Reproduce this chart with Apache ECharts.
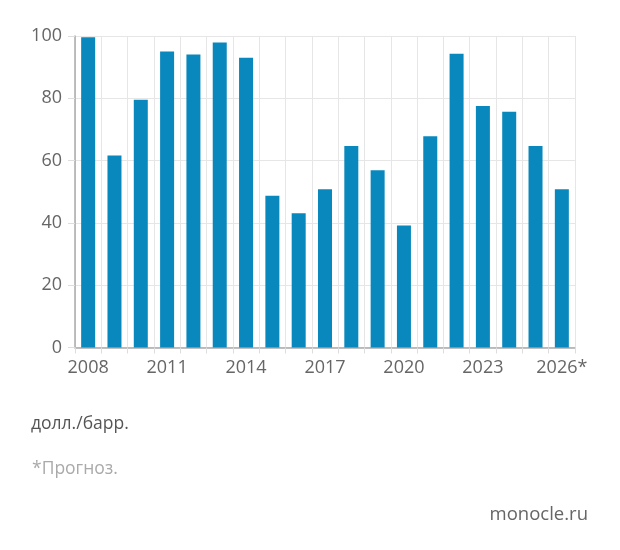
<!DOCTYPE html>
<html>
<head>
<meta charset="utf-8">
<script src="https://cdn.jsdelivr.net/npm/echarts@6/dist/echarts.min.js"></script>
<style>html,body{margin:0;padding:0;background:#fff;}#c{width:620px;height:550px;}</style>
</head>
<body>
<div id="c"></div>
<script>
const years = ['2008','2009','2010','2011','2012','2013','2014','2015','2016','2017','2018','2019','2020','2021','2022','2023','2024','2025','2026*'];
const prices = [99.6, 61.6, 79.5, 95.0, 94.1, 97.9, 93.0, 48.7, 43.1, 50.8, 64.7, 56.9, 39.2, 67.8, 94.3, 77.5, 75.7, 64.7, 50.8];
const yTicks = [0, 20, 40, 60, 80, 100];
const unitText = 'долл./барр.';
const noteText = '*Прогноз.';
const sourceText = 'monocle.ru';

const font = 'Open Sans';
const chart = echarts.init(document.getElementById('c'));
chart.setOption({
  animation: false,
  backgroundColor: '#fff',
  grid: { left: 75, right: 45, top: 36, bottom: 202.5, containLabel: false },
  xAxis: {
    type: 'category',
    data: years,
    boundaryGap: true,
    axisLine: { lineStyle: { color: '#aaa', width: 1.5 } },
    axisTick: { show: true, alignWithLabel: false, interval: 0, length: 6, lineStyle: { color: '#ddd' } },
    splitLine: { show: true, interval: 0, lineStyle: { color: '#e6e6e6', width: 1 } },
    axisLabel: {
      interval: function (i) { return i % 3 === 0; },
      margin: 11, color: '#666', fontSize: 18, fontFamily: font
    }
  },
  yAxis: {
    type: 'value',
    min: yTicks[0], max: yTicks[yTicks.length - 1], interval: 20,
    axisLine: { show: true, lineStyle: { color: '#aaa', width: 1.5 } },
    axisTick: { show: true, length: 7, lineStyle: { color: '#ddd' } },
    splitLine: { show: true, lineStyle: { color: '#e6e6e6', width: 1 } },
    axisLabel: { margin: 13, color: '#666', fontSize: 18, fontFamily: font }
  },
  series: [{
    type: 'bar',
    data: prices,
    barWidth: 14,
    itemStyle: { color: '#0888bd' },
    z: 3
  }],
  graphic: [
    { type: 'text', left: 31, top: 415, style: { text: unitText, fill: '#555', fontSize: 17.5, fontFamily: font } },
    { type: 'text', left: 32, top: 460, style: { text: noteText, fill: '#aaa', fontSize: 17.5, fontFamily: font } },
    { type: 'text', right: 32, top: 505, style: { text: sourceText, fill: '#666', fontSize: 18.5, fontFamily: font } }
  ]
});
</script>
</body>
</html>
